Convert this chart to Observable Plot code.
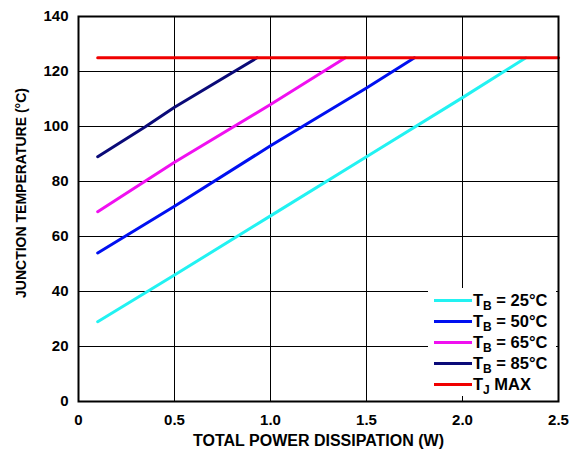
<!DOCTYPE html>
<html>
<head>
<meta charset="utf-8">
<script src="https://cdn.jsdelivr.net/npm/d3@7"></script>
<script src="https://cdn.jsdelivr.net/npm/@observablehq/plot@0.6"></script>
<style>
  body { margin: 0; background: #fff; }
  #wrap { position: relative; width: 569px; height: 453px; font-family: "Liberation Sans", Arial, sans-serif; }
  #legend { position: absolute; left: 428px; top: 288px; width: 128px; height: 108px; background: #fff; font-weight: bold; font-size: 16.5px; }
  .row { position: absolute; left: 0; height: 21px; display: flex; align-items: center; white-space: nowrap; }
  .sw { width: 38px; height: 3px; margin-left: 6px; margin-right: 1px; }
  .row sub { font-size: 12px; vertical-align: -4px; line-height: 0; }
</style>
</head>
<body>
<div id="wrap"></div>
<script>
// Series: total power dissipation (W) vs junction temperature (°C)
const tb25P = [0.1, 0.5, 1.0, 1.5, 2.0, 2.33];
const tb25T = [29, 46, 67.5, 89, 110.5, 125];
const tb50P = [0.1, 0.5, 1.0, 1.5, 1.75];
const tb50T = [54, 71, 93, 114, 125];
const tb65P = [0.1, 0.5, 1.0, 1.39];
const tb65T = [69, 87, 108, 125];
const tb85P = [0.1, 0.35, 0.5, 0.93];
const tb85T = [89, 100, 107, 125];
const tjP = [0.1, 2.5];
const tjT = [125, 125];

const seriesNames = ["TB = 25°C", "TB = 50°C", "TB = 65°C", "TB = 85°C", "TJ MAX"];
const seriesColors = ["#22f2f2", "#0010f0", "#f010f0", "#0a0a78", "#f00000"];
const legendSub = ["B", "B", "B", "B", "J"];
const legendRest = [" = 25°C", " = 50°C", " = 65°C", " = 85°C", " MAX"];

const xTicks = [0, 0.5, 1.0, 1.5, 2.0, 2.5];
const xTickLabels = ["0", "0.5", "1.0", "1.5", "2.0", "2.5"];
const yTicks = [0, 20, 40, 60, 80, 100, 120, 140];
const xTitle = "TOTAL POWER DISSIPATION (W)";
const yTitle = "JUNCTION TEMPERATURE (°C)";

const pSets = [tb25P, tb50P, tb65P, tb85P, tjP];
const tSets = [tb25T, tb50T, tb65T, tb85T, tjT];
const rows = [];
seriesNames.forEach((s, i) => pSets[i].forEach((p, j) => rows.push({series: s, p, t: tSets[i][j]})));

const chart = Plot.plot({
  width: 569,
  height: 453,
  marginLeft: 78,
  marginRight: 11,
  marginTop: 16,
  marginBottom: 52,
  style: {fontFamily: "'Liberation Sans', Arial, sans-serif", fontWeight: "bold", fontSize: "15px", color: "#000", background: "#fff"},
  x: {domain: [0, 2.5]},
  y: {domain: [0, 140]},
  color: {domain: seriesNames, range: seriesColors},
  marks: [
    Plot.gridX(xTicks, {stroke: "#000", strokeOpacity: 1, strokeWidth: 1}),
    Plot.gridY(yTicks, {stroke: "#000", strokeOpacity: 1, strokeWidth: 1}),
    Plot.line(rows, {x: "p", y: "t", z: "series", stroke: "series", strokeWidth: 3, curve: "linear"}),
    Plot.frame({stroke: "#000", strokeWidth: 2}),
    Plot.axisX({ticks: xTicks, tickFormat: (d, i) => xTickLabels[i], tickSize: 0, tickPadding: 13, fontSize: 15, label: null}),
    Plot.axisY({ticks: yTicks, tickSize: 0, tickPadding: 10, fontSize: 15, label: null}),
    Plot.text([xTitle], {frameAnchor: "bottom", dy: 44, fontSize: 16, fontWeight: "bold", text: d => d}),
    Plot.text([yTitle], {frameAnchor: "left", textAnchor: "middle", dx: -57, dy: -16, rotate: -90, fontSize: 14, fontWeight: "bold", text: d => d})
  ]
});
const wrap = document.getElementById("wrap");
wrap.appendChild(chart);

const legend = document.createElement("div");
legend.id = "legend";
seriesNames.forEach((s, i) => {
  const r = document.createElement("div");
  r.className = "row";
  r.style.top = (2 + i * 21) + "px";
  r.innerHTML = `<div class="sw" style="background:${seriesColors[i]}"></div><span>T<sub>${legendSub[i]}</sub>${legendRest[i]}</span>`;
  legend.appendChild(r);
});
wrap.appendChild(legend);
</script>
</body>
</html>
